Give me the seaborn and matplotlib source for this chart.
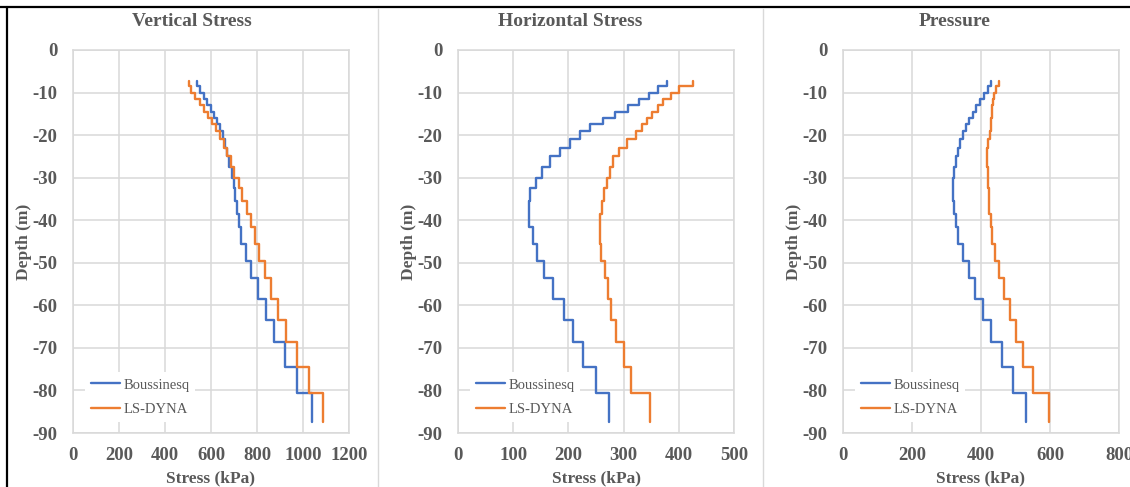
import numpy as np
import pandas as pd
import seaborn as sns
import matplotlib.pyplot as plt
from matplotlib.lines import Line2D

sns.set_style("white")
plt.rcParams["font.family"] = ["Liberation Serif", "DejaVu Serif"]
plt.rcParams["font.weight"] = "bold"
plt.rcParams["axes.unicode_minus"] = False

txt_col = "#595959"
grid_col = "#d9d9d9"
blue = "#4472C4"
orange = "#ED7D31"

# layer boundaries (m), top to bottom
depth_bounds = [-7.3, -8.5, -10, -11.5, -13, -14.5, -16, -17.5, -19, -21, -23, -25, -27.5,
                -30, -32.5, -35.5, -38.5, -41.5, -45.5, -49.5, -53.5, -58.5, -63.5,
                -68.5, -74.5, -80.5, -87.5]

# stress per layer (kPa)
vert_boussinesq = [537, 552, 568, 584, 598, 612, 625, 637, 650, 660, 670, 680, 692,
                   698, 703, 712, 721, 732, 754, 775, 804, 838, 873, 921, 975, 1041]
vert_lsdyna = [505, 515, 532, 550, 568, 585, 603, 620, 638, 655, 670, 685, 702,
               720, 736, 756, 772, 790, 808, 834, 860, 892, 928, 976, 1026, 1086]

horiz_boussinesq = [378, 362, 346, 328, 308, 285, 262, 240, 221, 202, 184, 167, 153,
                    141, 131, 128, 129, 135, 143, 156, 173, 192, 208, 227, 250, 274]
horiz_lsdyna = [425, 400, 385, 372, 362, 352, 343, 333, 322, 306, 292, 281, 275,
                270, 265, 261, 258, 257, 259, 266, 271, 278, 286, 300, 313, 348]

press_boussinesq = [429, 419, 409, 397, 386, 376, 365, 357, 347, 339, 333, 327, 322,
                    320, 320, 323, 327, 334, 347, 365, 383, 405, 428, 460, 494, 529]
press_lsdyna = [453, 443, 438, 434, 432, 431, 429, 428, 426, 420, 418, 418, 419,
                421, 423, 424, 428, 431, 441, 452, 468, 484, 502, 523, 552, 596]

panels = [
    ("Vertical Stress", vert_boussinesq, vert_lsdyna, 1200, 200),
    ("Horizontal Stress", horiz_boussinesq, horiz_lsdyna, 500, 100),
    ("Pressure", press_boussinesq, press_lsdyna, 800, 200),
]


def staircase(values, name):
    rows = []
    for i, v in enumerate(values):
        rows.append((v, depth_bounds[i], name))
        rows.append((v, depth_bounds[i + 1], name))
    return pd.DataFrame(rows, columns=["Stress", "Depth", "Method"])


W, H = 1130, 487
fig = plt.figure(figsize=(W / 100, H / 100), dpi=100)

ax_left = [73, 458, 843]
title_x = [192, 570, 955]

for k, (title, bq, ls, xmax, xstep) in enumerate(panels):
    ax = fig.add_axes([ax_left[k] / W, (H - 433) / H, 276 / W, 383 / H])
    df = pd.concat([staircase(bq, "Boussinesq"), staircase(ls, "LS-DYNA")],
                   ignore_index=True)
    sns.lineplot(data=df, x="Stress", y="Depth", hue="Method",
                 palette=[blue, orange], sort=False, estimator=None,
                 linewidth=1.7, ax=ax)

    ax.set_xlim(0, xmax)
    ax.set_ylim(-90, 0)
    ax.set_xticks(np.arange(0, xmax + 1, xstep))
    ax.set_yticks(np.arange(-90, 1, 10))
    ax.grid(True, color=grid_col, linewidth=1.1)
    ax.set_axisbelow(True)
    for s in ax.spines.values():
        s.set_color(grid_col)
        s.set_linewidth(1.1)
    ax.tick_params(length=0, labelsize=13.5, labelcolor=txt_col)
    ax.tick_params(axis="x", pad=10)
    ax.tick_params(axis="y", pad=11)
    ax.set_xlabel("Stress (kPa)", fontsize=12.5, fontweight="bold",
                  color=txt_col, labelpad=5)
    ax.set_ylabel("Depth (m)", fontsize=12.5, fontweight="bold",
                  color=txt_col)
    ax.yaxis.set_label_coords(-41 / 276, 0.5)

    leg = ax.legend(loc="lower left", bbox_to_anchor=(0.045, 0.03),
                    borderaxespad=0, frameon=True, framealpha=1,
                    facecolor="white", edgecolor="none",
                    prop={"weight": "normal", "size": 10.5},
                    handlelength=2.0, handletextpad=0.2, labelspacing=0.75)
    for t in leg.get_texts():
        t.set_color(txt_col)

    fig.text(title_x[k] / W, 1 - 21 / H, title, ha="center", va="center",
             fontsize=14, fontweight="bold", color=txt_col)

# chart borders
for xs in [378, 763]:
    fig.add_artist(Line2D([xs / W, xs / W], [0, 1 - 9 / H], color=grid_col,
                          linewidth=1, transform=fig.transFigure))
fig.add_artist(Line2D([0, 1], [1 - 7 / H, 1 - 7 / H], color="black",
                      linewidth=1.6, transform=fig.transFigure))
fig.add_artist(Line2D([7 / W, 7 / W], [0, 1 - 7 / H], color="black",
                      linewidth=1.6, transform=fig.transFigure))

fig.savefig("out.png", dpi=100)
